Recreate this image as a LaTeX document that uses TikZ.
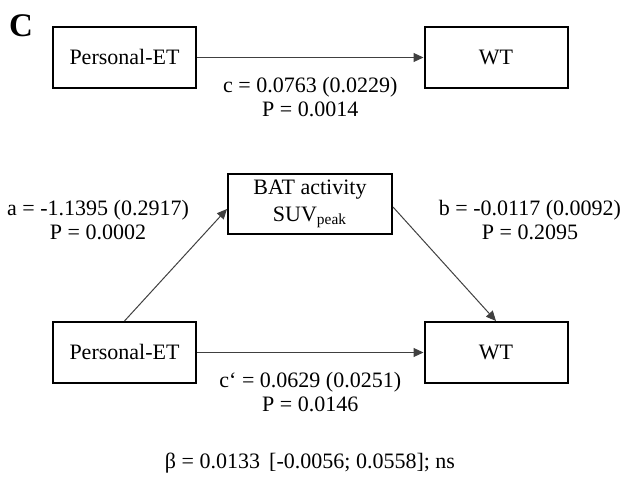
\documentclass[tikz,border=0pt]{standalone}
\usepackage{fontspec}
\setmainfont{Liberation Serif}
\usetikzlibrary{arrows.meta}

\tikzstyle{var}   = [rectangle, draw, line width=1pt, minimum width=71.5pt, minimum height=30.5pt, text height=8.5pt, text depth=1pt, text centered, font=\fontsize{11}{12}\selectfont]
\tikzstyle{med}   = [rectangle, draw, line width=1pt, minimum width=82pt, minimum height=30pt, align=center, inner sep=1pt, font=\fontsize{11}{12}\selectfont]
\tikzstyle{coef}  = [align=center, font=\fontsize{11}{12}\selectfont]
\tikzstyle{arrow} = [draw=black!75, line width=0.5pt, -{Triangle[length=5pt,width=4.5pt]}]

\begin{document}
\begin{tikzpicture}
\useasboundingbox (0,0) rectangle (310.5pt,-240pt);
\node (panel) at (10.5pt,-13pt) {\fontsize{16.5}{18}\selectfont\bfseries C};

% total effect
\node (pet1) [var] at (62.25pt,-28.75pt) {Personal-ET};
\node (wt1)  [var, node distance=185.75pt, right of=pet1] {WT};

% mediation model
\node (pet2) [var, node distance=147.5pt, below of=pet1] {Personal-ET};
\node (wt2)  [var, node distance=147.5pt, below of=wt1]  {WT};
\node (bat)  [med] at (155pt,-102pt) {BAT activity\\[1.5pt]SUV\textsubscript{peak}};

\draw [arrow] (pet1) -- node [coef, below=6.5pt] {c = 0.0763 (0.0229)\\P = 0.0014} (wt1);
\draw [arrow] (pet2.north) -- ([yshift=-2.5pt]bat.west);
\draw [arrow] ([yshift=-1.5pt]bat.east) -- (wt2.north);
\draw [arrow] (pet2) -- node [coef, below=6.5pt] {c‘ = 0.0629 (0.0251)\\P = 0.0146} (wt2);

\node (alab) [coef] at (49pt,-110pt)  {a = -1.1395 (0.2917)\\P = 0.0002};
\node (blab) [coef] at (265pt,-110pt) {b = -0.0117 (0.0092)\\P = 0.2095};
\node (beta) [coef] at (155pt,-231.5pt) {β = 0.0133 \,[-0.0056; 0.0558]; ns};
\end{tikzpicture}
\end{document}
